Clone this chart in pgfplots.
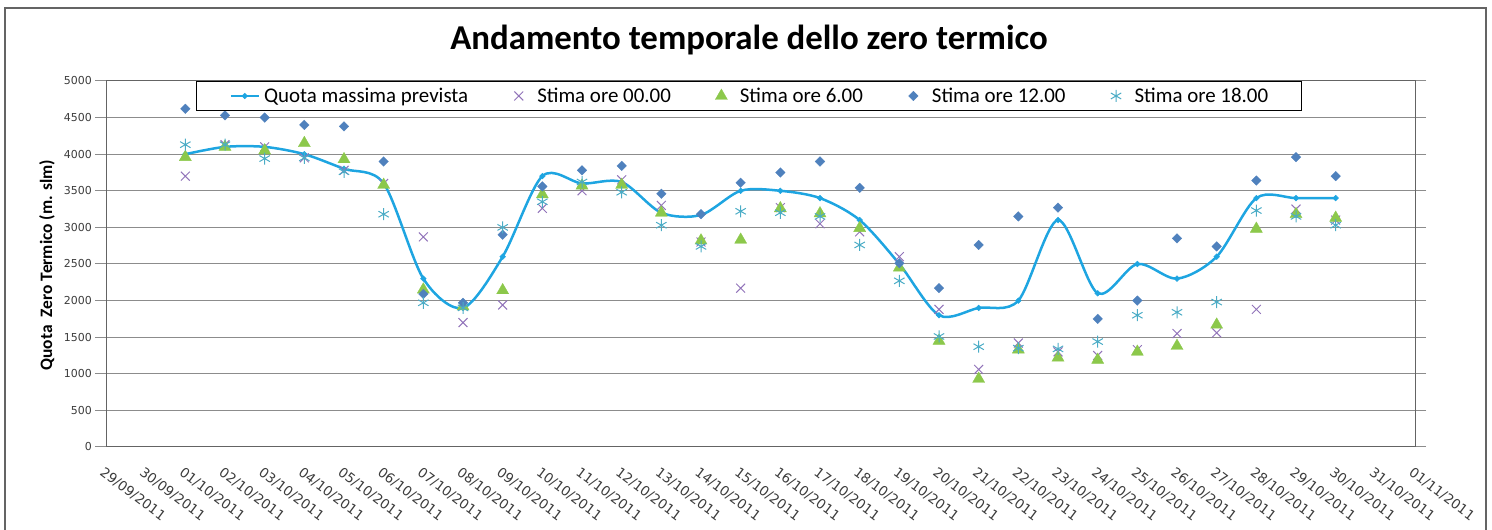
\documentclass[border=0pt]{standalone}
\usepackage{pgfplots}
\pgfplotsset{compat=1.18}
\usepackage{fontspec}
\setmainfont{Carlito}
\newfontfamily\dejavu{DejaVu Sans}
\definecolor{cline}{RGB}{30,165,225}
\definecolor{cx}{RGB}{145,115,185}
\definecolor{ctri}{RGB}{140,200,75}
\definecolor{cdia}{RGB}{79,129,189}
\definecolor{cast}{RGB}{75,172,198}
\definecolor{cgrid}{RGB}{140,140,140}
\definecolor{cframe}{RGB}{100,100,100}
\definecolor{ctick}{RGB}{60,60,60}
\begin{document}
\begin{tikzpicture}[x=1bp,y=1bp]
\path[use as bounding box] (0,0) rectangle (1492,530);
\draw[cframe, line width=1.5bp] (5,-20) -- (5,522) -- (1486,522) -- (1486,-20);
\node[anchor=base, font=\bfseries\fontsize{35}{40}\selectfont] at (749,480) {Andamento temporale dello zero termico};
\node[rotate=90, font=\bfseries\fontsize{17.5}{20}\selectfont] at (47,265) {Quota\ \ Zero Termico (m. slm)};
\begin{axis}[
  at={(106bp,83bp)}, anchor=south west,
  scale only axis, width=1309bp, height=366bp,
  xmin=0, xmax=33, ymin=0, ymax=5000,
  xtick={0,...,33},
  xticklabels={29/09/2011,30/09/2011,01/10/2011,02/10/2011,03/10/2011,04/10/2011,05/10/2011,06/10/2011,07/10/2011,08/10/2011,09/10/2011,10/10/2011,11/10/2011,12/10/2011,13/10/2011,14/10/2011,15/10/2011,16/10/2011,17/10/2011,18/10/2011,19/10/2011,20/10/2011,21/10/2011,22/10/2011,23/10/2011,24/10/2011,25/10/2011,26/10/2011,27/10/2011,28/10/2011,29/10/2011,30/10/2011,31/10/2011,01/11/2011},
  ytick={0,500,...,5000},
  /pgf/number format/assume math mode=true,
  /pgf/number format/1000 sep={},
  ymajorgrids,
  grid style={cgrid, line width=1bp},
  axis line style={cframe, line width=1bp},
  xtick style={draw=none},
  xtick align=inside,
  ytick align=outside,
  ytick style={cgrid, line width=1bp},
  major tick length=11bp,
  yticklabel style={font=\dejavu\fontsize{11}{13}\selectfont, text=ctick, inner sep=0bp, xshift=-3bp},
  xticklabel style={font=\dejavu\fontsize{13.5}{15}\selectfont, text=ctick, inner sep=0bp, rotate=-37, anchor=north west, xshift=11bp, yshift=-16bp},
  legend style={at={(rel axis cs:0.06875,1)}, anchor=north west, draw=black, line width=1bp, fill=white,
    font=\fontsize{21}{25}\selectfont, legend columns=5, inner xsep=33bp, inner ysep=6.5bp,
    /tikz/every odd column/.append style={column sep=4bp},
    /tikz/every even column/.append style={column sep=36bp},
    nodes={inner sep=0bp}},
  legend image code/.code={\path (0bp,0bp) (28bp,0bp); \draw[mark repeat=2,mark phase=2,#1] plot coordinates {(0bp,0bp)(14bp,0bp)(28bp,0bp)};},
]
\addplot[cline, line width=2.5bp, smooth, mark=square*, mark size=2bp, mark options={rotate=45, fill=cline, draw=cline, line width=0.5bp}] coordinates {
(2,4000) (3,4100) (4,4100) (5,4000) (6,3800) (7,3600) (8,2300) (9,1900) (10,2600) (11,3700)
(12,3600) (13,3620) (14,3200) (15,3170) (16,3500) (17,3500) (18,3400) (19,3100) (20,2500) (21,1800)
(22,1900) (23,2000) (24,3100) (25,2100) (26,2500) (27,2300) (28,2600) (29,3400) (30,3400) (31,3400)};
\addlegendentry{Quota massima prevista}
\addplot[only marks, mark=x, mark size=6.3bp, mark options={draw=cx, line width=1bp}] coordinates {
(2,3700) (3,4130) (4,4100) (5,3950) (6,3780) (7,3600) (8,2870) (9,1700) (10,1940) (11,3260)
(12,3500) (13,3650) (14,3300) (15,2800) (16,2170) (17,3270) (18,3050) (19,2940) (20,2600) (21,1880)
(22,1060) (23,1420) (24,1300) (25,1250) (26,1330) (27,1550) (28,1560) (29,1880) (30,3250) (31,3100)};
\addlegendentry{Stima ore 00.00}
\addplot[only marks, mark=triangle*, mark size=7bp, mark options={fill=ctri, draw=ctri, line width=0.3bp}] coordinates {
(2,3960) (3,4100) (4,4050) (5,4150) (6,3930) (7,3580) (8,2150) (9,1920) (10,2140) (11,3450)
(12,3570) (13,3580) (14,3200) (15,2820) (16,2830) (17,3260) (18,3190) (19,2990) (20,2450) (21,1450)
(22,930) (23,1330) (24,1220) (25,1190) (26,1300) (27,1380) (28,1670) (29,2980) (30,3180) (31,3130)};
\addlegendentry{Stima ore 6.00}
\addplot[only marks, mark=square*, mark size=3.4bp, mark options={rotate=45, fill=cdia, draw=cdia, line width=0.3bp}] coordinates {
(2,4620) (3,4530) (4,4500) (5,4400) (6,4380) (7,3900) (8,2090) (9,1970) (10,2900) (11,3560)
(12,3780) (13,3840) (14,3460) (15,3180) (16,3610) (17,3750) (18,3900) (19,3540) (20,2510) (21,2170)
(22,2760) (23,3150) (24,3270) (25,1750) (26,2000) (27,2850) (28,2740) (29,3640) (30,3960) (31,3700)};
\addlegendentry{Stima ore 12.00}
\addplot[only marks, mark=asterisk, mark size=6bp, mark options={draw=cast, line width=1bp}] coordinates {
(2,4130) (3,4130) (4,3940) (5,3950) (6,3760) (7,3180) (8,1970) (9,1900) (10,3000) (11,3350)
(12,3620) (13,3480) (14,3030) (15,2740) (16,3220) (17,3200) (18,3150) (19,2760) (20,2270) (21,1510)
(22,1370) (23,1350) (24,1340) (25,1440) (26,1800) (27,1840) (28,1980) (29,3230) (30,3150) (31,3030)};
\addlegendentry{Stima ore 18.00}
\end{axis}
\end{tikzpicture}
\end{document}
